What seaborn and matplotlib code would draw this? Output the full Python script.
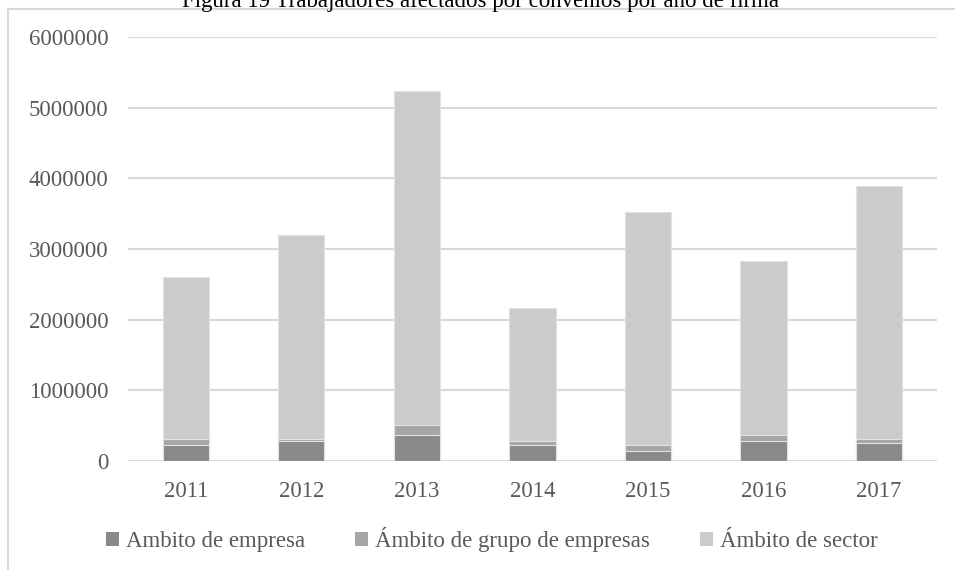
import matplotlib
matplotlib.use("Agg")
import matplotlib.pyplot as plt
import matplotlib.ticker as mticker
from matplotlib.lines import Line2D
from matplotlib.patches import Patch
import numpy as np
import pandas as pd
import seaborn as sns

# Data
years = ["2011", "2012", "2013", "2014", "2015", "2016", "2017"]
empresa = [226000, 283000, 368000, 226000, 142000, 283000, 255000]
grupo = [81000, 24000, 141000, 52000, 80000, 85000, 52000]
sector = [2299000, 2890000, 4728000, 1885000, 3309000, 2469000, 3588000]

series_names = ["Ambito de empresa", "Ámbito de grupo de empresas", "Ámbito de sector"]
colors = ["#898989", "#a6a6a6", "#cbcbcb"]

sns.set_style("white")
plt.rcParams["font.family"] = ["Liberation Serif", "DejaVu Serif"]

# cumulative tops so the stack can be drawn back to front
df = pd.DataFrame({"year": years, "empresa": empresa, "grupo": grupo, "sector": sector})
df["c1"] = df["empresa"]
df["c2"] = df["c1"] + df["grupo"]
df["c3"] = df["c2"] + df["sector"]

fig = plt.figure(figsize=(9.55, 5.7), dpi=100)
ax = fig.add_axes([0.134, 0.191, 0.847, 0.744])

for col, color in zip(["c3", "c2", "c1"], colors[::-1]):
    sns.barplot(data=df, x="year", y=col, color=color, width=0.4,
                edgecolor="#e2e2e2", linewidth=0.8, saturation=1, ax=ax, zorder=3)

ax.set_xlim(-0.5, 6.5)
ax.set_ylim(0, 6000000)
ax.yaxis.set_major_locator(mticker.MultipleLocator(1000000))
ax.yaxis.set_major_formatter(mticker.FuncFormatter(lambda v, p: f"{v:.0f}"))
ax.grid(axis="y", color="#d9d9d9", linewidth=1.5, zorder=0)
ax.set_axisbelow(True)
for s in ax.spines.values():
    s.set_visible(False)
ax.set_xlabel("")
ax.set_ylabel("")
ax.tick_params(axis="both", length=0, labelsize=16.5, labelcolor="#595959")
ax.tick_params(axis="y", pad=14)
ax.tick_params(axis="x", pad=14)

handles = [Patch(facecolor=c, edgecolor="none") for c in colors]
fig.legend(handles, series_names, loc="center", bbox_to_anchor=(0.515, 0.053),
           ncol=3, frameon=False, fontsize=16.5, labelcolor="#595959",
           handlelength=0.55, handleheight=0.55, handletextpad=0.3, columnspacing=2.2)

# title, cut off at the top as in the source image
fig.text(0.503, 0.988, "Figura 19 Trabajadores afectados por convenios por año de firma",
         ha="center", va="baseline", fontsize=16.5, color="black")

# chart border (top and left edges visible)
fig.add_artist(Line2D([8 / 955, 1], [561 / 570, 561 / 570], color="#d9d9d9", lw=1.5))
fig.add_artist(Line2D([8 / 955, 8 / 955], [0, 561 / 570], color="#d9d9d9", lw=1.5))

fig.savefig("out.png", dpi=100)
